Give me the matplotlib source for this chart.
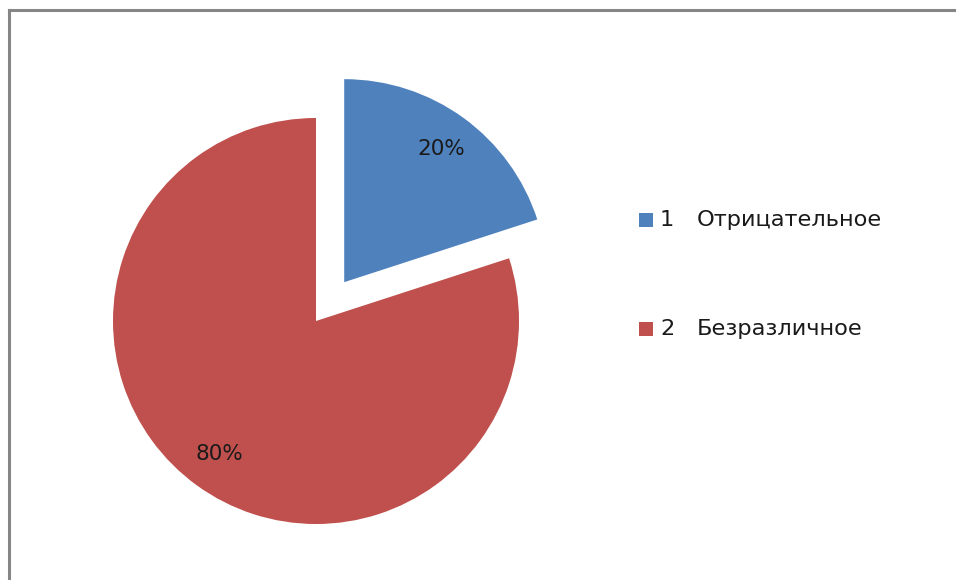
import matplotlib
matplotlib.use("Agg")
import matplotlib.pyplot as plt
from matplotlib.patches import Rectangle
from matplotlib.lines import Line2D

categories = ["Отрицательное", "Безразличное"]
numbers = ["1", "2"]
values = [20, 80]
colors = ["#4F81BD", "#C0504D"]

W, H = 956, 580
fig = plt.figure(figsize=(W / 100, H / 100), dpi=100)
ax = fig.add_axes([0, 0, 1, 1])

FONT = "DejaVu Sans"
wedges, texts, autotexts = ax.pie(
    values, colors=colors, startangle=90, counterclock=False,
    explode=[48, 0], center=(316, H - 321), radius=203,
    autopct="%d%%", pctdistance=0.81, frame=False,
    textprops=dict(family=FONT, fontsize=15.5, color="#1a1a1a"),
)
ax.set_xlim(0, W)
ax.set_ylim(0, H)
ax.set_aspect("auto")
ax.axis("off")

# legend
rows_y = [220, 329]
for num, cat, col, yy in zip(numbers, categories, colors, rows_y):
    ax.add_patch(Rectangle((639, H - yy - 7), 14, 14, facecolor=col, edgecolor="none"))
    ax.text(660, H - yy, num, family=FONT, fontsize=16.2, va="center", ha="left", color="#1a1a1a")
    ax.text(697, H - yy, cat, family=FONT, fontsize=16.2, va="center", ha="left", color="#1a1a1a")

# frame (top and left)
fig.add_artist(Line2D([8.5 / W, 1], [1 - 10 / H, 1 - 10 / H], color="#868686", lw=2.2, transform=fig.transFigure))
fig.add_artist(Line2D([8.5 / W, 8.5 / W], [0, 1 - 10 / H], color="#868686", lw=2.2, transform=fig.transFigure))

fig.savefig("out.png", dpi=100, facecolor="white")
